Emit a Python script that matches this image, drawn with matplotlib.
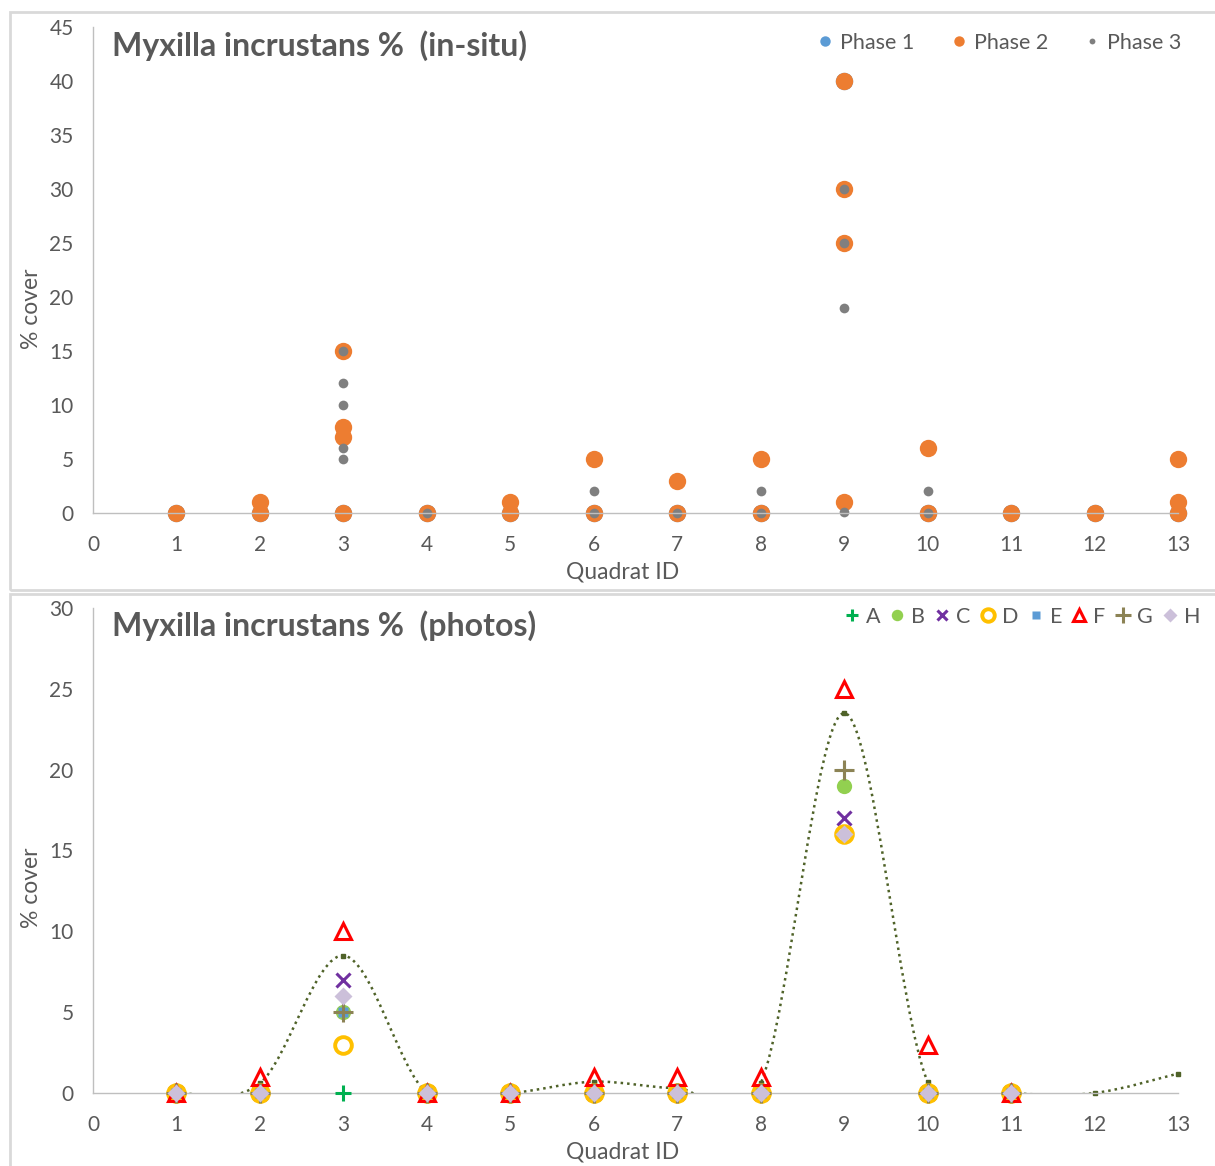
import matplotlib
matplotlib.use("Agg")
import matplotlib.pyplot as plt
from matplotlib.path import Path
from matplotlib.patches import PathPatch, Rectangle
import numpy as np

plt.rcParams['font.family'] = ['Lato', 'DejaVu Sans']

# ---------------- data: in-situ ----------------
phase1_x = [1, 2, 3, 4, 5, 6, 7, 8, 9, 10, 11, 12, 13]
phase1_y = [0, 0, 0, 0, 0, 0, 0, 0, 40, 0, 0, 0, 0]
phase2_x = [1, 2, 2, 3, 3, 3, 3, 4, 5, 5, 6, 6, 7, 7, 8, 8, 9, 9, 9, 9, 10, 10, 11, 12, 13, 13, 13]
phase2_y = [0, 0, 1, 0, 7, 8, 15, 0, 0, 1, 0, 5, 0, 3, 0, 5, 1, 25, 30, 40, 0, 6, 0, 0, 0, 1, 5]
phase3_x = [3, 3, 3, 3, 3, 4, 6, 6, 7, 8, 8, 9, 9, 9, 9, 10, 10]
phase3_y = [5, 6, 10, 12, 15, 0, 0, 2, 0, 0, 2, 0.1, 19, 25, 30, 0, 2]

# ---------------- data: photos ----------------
quadrats = [1, 2, 3, 4, 5, 6, 7, 8, 9, 10, 11]
photo_A = [0, 0, 0, 0, 0, 0, 0, 0, 20, 0, 0]
photo_B = [0, 0, 5, 0, 0, 0, 0, 0, 19, 0, 0]
photo_C = [0, 0, 7, 0, 0, 0, 0, 0, 17, 0, 0]
photo_D = [0, 0, 3, 0, 0, 0, 0, 0, 16, 0, 0]
photo_E = [0, 0, 5, 0, 0, 0, 0, 0, None, 0, 0]
photo_F = [0, 1, 10, 0, 0, 1, 1, 1, 25, 3, 0]
photo_G = [0, 0, 5, 0, 0, 0, 0, 0, 20, 0, 0]
photo_H = [0, 0, 6, 0, 0, 0, 0, 0, 16, 0, 0]
mean_x = [1, 2, 3, 4, 5, 6, 7, 8, 9, 10, 11, 12, 13]
mean_y = [0, 0.6, 8.5, 0, 0, 0.7, 0.3, 0.6, 23.5, 0.7, 0, 0, 1.2]

x_ticks = list(range(0, 14))

W, H = 1215, 1166
fig = plt.figure(figsize=(W / 100, H / 100), dpi=100)

def fx(px):
    return px / W

def fy(py):
    return 1 - py / H

# chart-area borders
def px_rect(x0, y0, x1, y1):
    return Rectangle((fx(x0), fy(y1)), (x1 - x0) / W, (y1 - y0) / H,
                     transform=fig.transFigure, fill=False,
                     edgecolor='#D9D9D9', linewidth=2, zorder=0)
fig.patches.append(px_rect(10, 12, 1240, 590))
fig.patches.append(px_rect(10, 594, 1240, 1200))

TXT = '#595959'
AXC = '#BFBFBF'
TICK_FS = 15
LAB_FS = 16.5
TITLE_FS = 23
LEG_FS = 15.5

def style_axes(ax, ymax, ystep):
    ax.set_xlim(0, 13)
    ax.set_ylim(0, ymax)
    ax.set_xticks(x_ticks)
    ax.set_yticks(np.arange(0, ymax + 0.1, ystep))
    for s in ['top', 'right']:
        ax.spines[s].set_visible(False)
    for s in ['left', 'bottom']:
        ax.spines[s].set_color(AXC)
        ax.spines[s].set_linewidth(1)
    ax.tick_params(length=0, labelsize=TICK_FS, labelcolor=TXT)
    ax.tick_params(axis='y', pad=14)
    ax.tick_params(axis='x', pad=16)
    ax.set_facecolor('none')

# ---------------- top axes ----------------
ax1 = fig.add_axes([fx(93), fy(513), (1178 - 93) / W, (513 - 27) / H])
style_axes(ax1, 45, 5)
ax1.plot(phase1_x, phase1_y, 'o', color='#5B9BD5', ms=12.5, mec='none', label='Phase 1', clip_on=False)
ax1.plot(phase2_x, phase2_y, 'o', color='#ED7D31', ms=12.5, mec='none', label='Phase 2', clip_on=False)
ax1.plot(phase3_x, phase3_y, 'o', color='#7F7F7F', ms=7, mec='none', label='Phase 3', clip_on=False)
fig.text(fx(112), fy(46), 'Myxilla incrustans %  (in-situ)',
         fontsize=TITLE_FS, fontweight='bold', color=TXT, va='center', ha='left')
fig.text(fx(32), fy(309), '% cover', rotation=90, fontsize=LAB_FS, color=TXT, ha='center', va='center')
fig.text(fx(623), fy(572), 'Quadrat ID', fontsize=LAB_FS, color=TXT, ha='center', va='center')
leg1 = ax1.legend(loc='center', bbox_to_anchor=(fx(1000), fy(43)), bbox_transform=fig.transFigure,
                  ncol=3, frameon=False, fontsize=LEG_FS, handlelength=0.6, handletextpad=0.4,
                  columnspacing=1.75, markerscale=0.6, borderpad=0, borderaxespad=0)
for t in leg1.get_texts():
    t.set_color(TXT)

# ---------------- bottom axes ----------------
ax2 = fig.add_axes([fx(93), fy(1093), (1178 - 93) / W, (1093 - 608) / H])
style_axes(ax2, 30, 5)

# smoothed (Catmull-Rom / Bezier) dotted line through the mean series
pts = np.column_stack([mean_x, mean_y]).astype(float)
verts = [tuple(pts[0])]
codes = [Path.MOVETO]
n = len(pts)
for i in range(n - 1):
    p0 = pts[i - 1] if i > 0 else pts[i]
    p1 = pts[i]
    p2 = pts[i + 1]
    p3 = pts[i + 2] if i + 2 < n else pts[i + 1]
    c1 = p1 + (p2 - p0) / 6.0
    c2 = p2 - (p3 - p1) / 6.0
    verts += [tuple(c1), tuple(c2), tuple(p2)]
    codes += [Path.CURVE4] * 3
ax2.add_patch(PathPatch(Path(verts, codes), fill=False, edgecolor='#4F6228',
                        linewidth=1.8, linestyle=(0, (1, 1.6)), zorder=2))
ax2.plot(mean_x, mean_y, 's', color='#4F6228', ms=3, zorder=2, clip_on=False)

def yv(vals):
    return [np.nan if v is None else v for v in vals]

kw = dict(linestyle='none', clip_on=False, zorder=3)
ax2.plot(quadrats, yv(photo_A), marker='+', color='#00B050', ms=12, mew=2.2, label='A', **kw)
ax2.plot(quadrats, yv(photo_B), marker='o', color='#92D050', ms=11, mec='none', label='B', **kw)
ax2.plot(quadrats, yv(photo_C), marker='x', color='#7030A0', ms=10, mew=2.2, label='C', **kw)
ax2.plot(quadrats, yv(photo_D), marker='o', color='#FFC000', ms=12, mfc='none', mew=2.8, label='D', **kw)
ax2.plot(quadrats, yv(photo_E), marker='s', color='#5B9BD5', ms=7, mec='none', label='E', **kw)
ax2.plot(quadrats, yv(photo_F), marker='^', color='#FF0000', ms=12, mfc='none', mew=2.2, label='F', **kw)
ax2.plot(quadrats, yv(photo_G), marker='+', color='#8C8355', ms=15, mew=2.2, label='G', **kw)
ax2.plot(quadrats, yv(photo_H), marker='D', color='#CCC0DA', ms=9, mec='none', label='H', **kw)

fig.text(fx(112), fy(626), 'Myxilla incrustans %  (photos)',
         fontsize=TITLE_FS, fontweight='bold', color=TXT, va='center', ha='left')
fig.text(fx(32), fy(888), '% cover', rotation=90, fontsize=LAB_FS, color=TXT, ha='center', va='center')
fig.text(fx(623), fy(1152), 'Quadrat ID', fontsize=LAB_FS, color=TXT, ha='center', va='center')
leg2 = ax2.legend(loc='center left', bbox_to_anchor=(fx(844), fy(617)), bbox_transform=fig.transFigure,
                  ncol=8, frameon=False, fontsize=LEG_FS, handlelength=0.7, handletextpad=0.3,
                  columnspacing=0.45, markerscale=0.75, borderaxespad=0, borderpad=0)
for t in leg2.get_texts():
    t.set_color(TXT)

fig.savefig('out.png', dpi=100)
